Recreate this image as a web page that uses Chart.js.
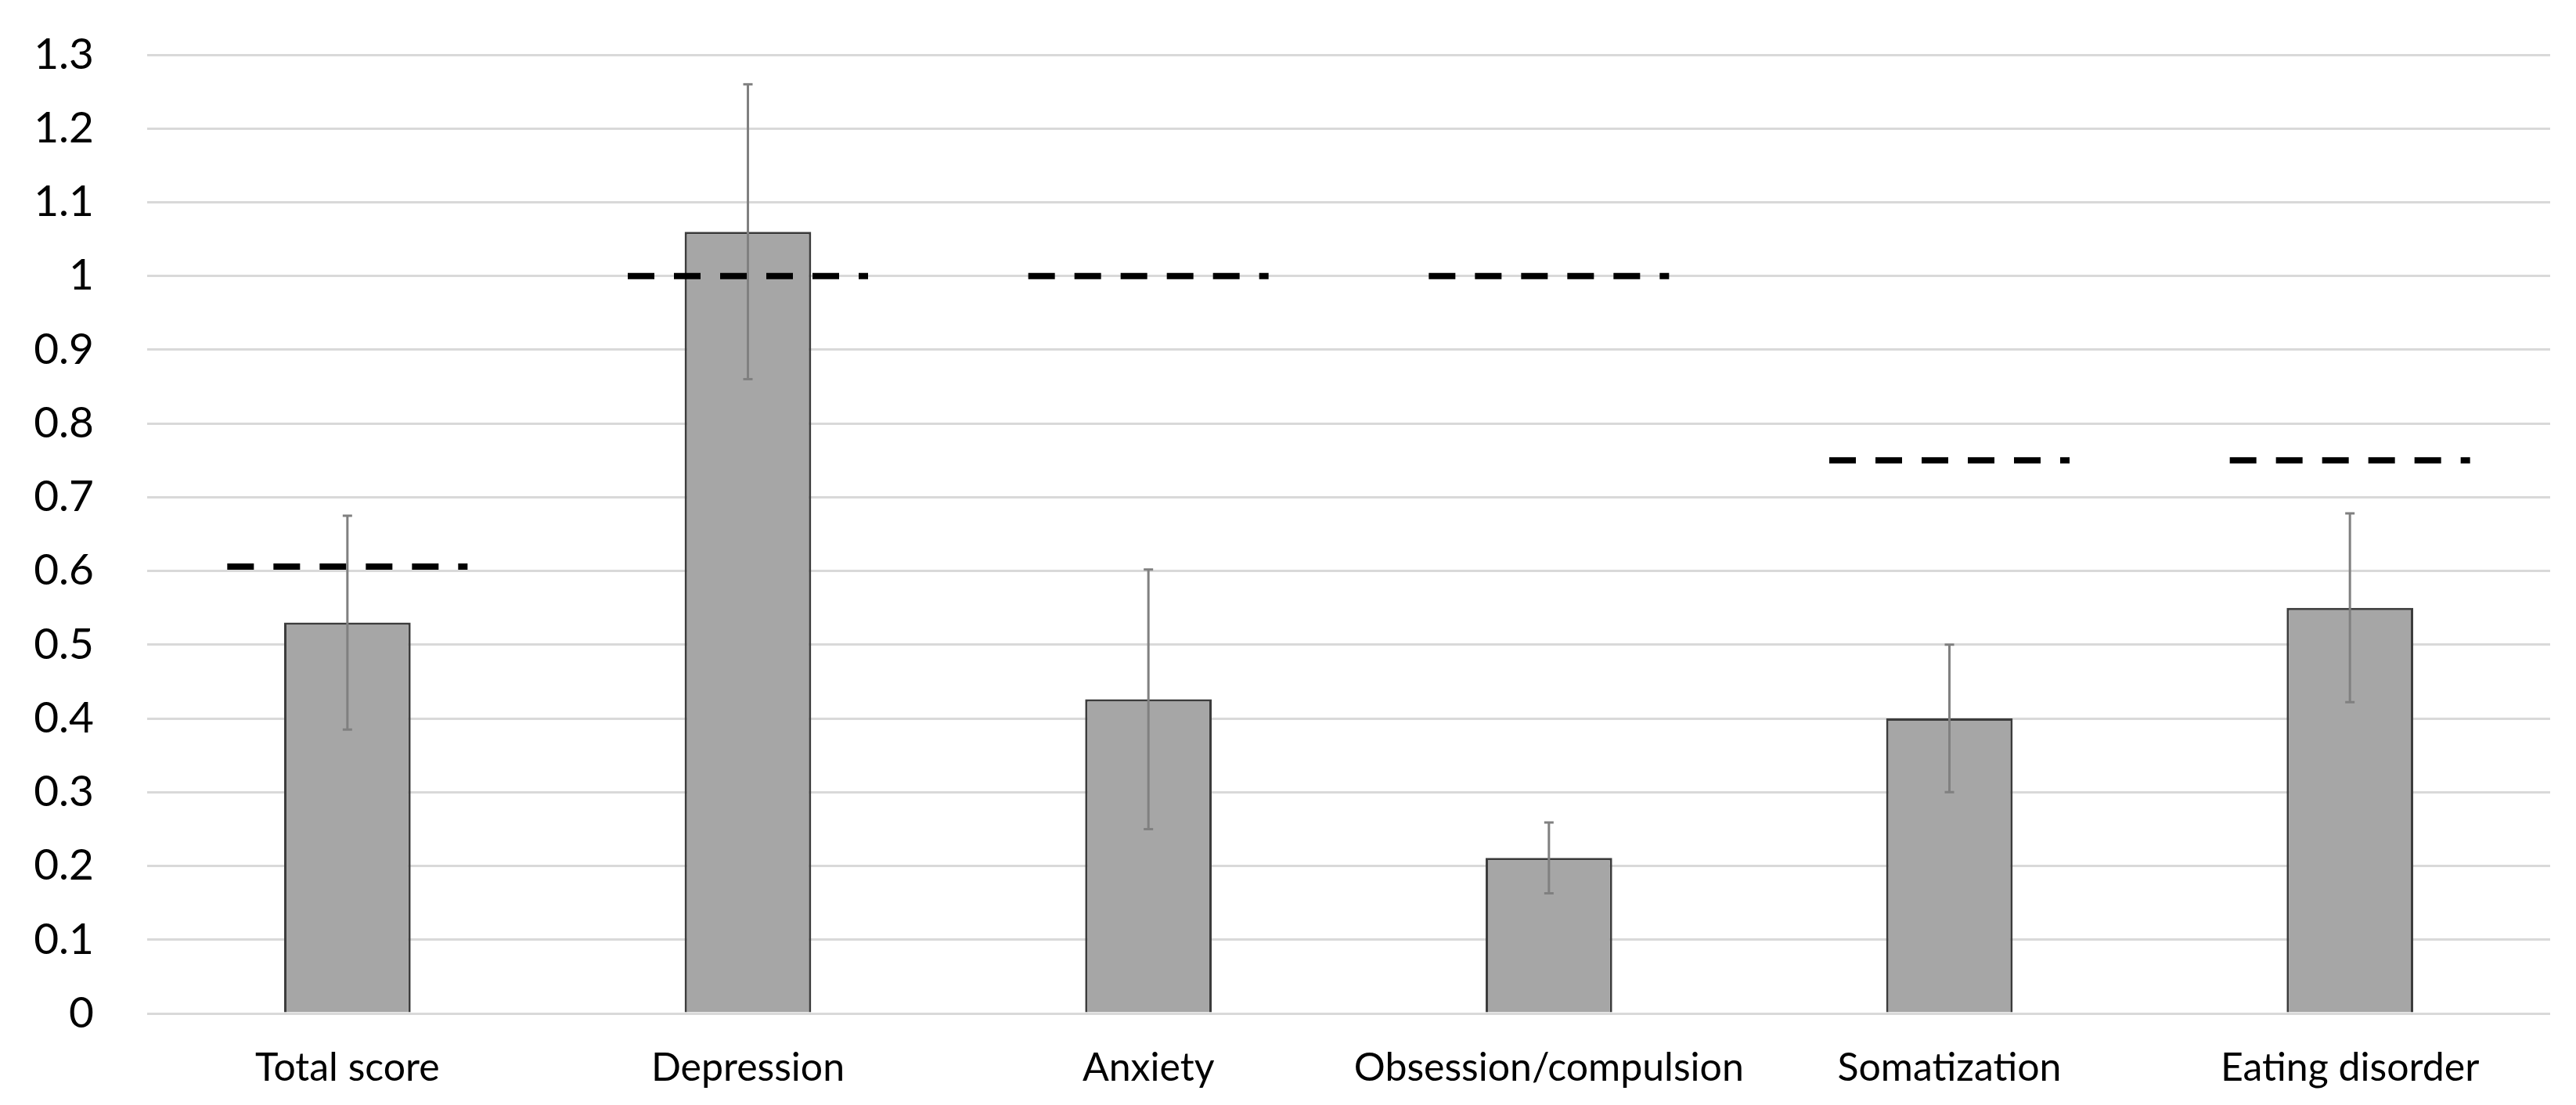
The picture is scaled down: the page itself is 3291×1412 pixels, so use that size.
<!DOCTYPE html>
<html>
<head>
<meta charset="utf-8">
<script src="https://cdn.jsdelivr.net/npm/chart.js@4/dist/chart.umd.min.js"></script>
<style>
  html, body { margin: 0; padding: 0; background: #fff; }
  #wrap { width: 3291px; height: 1412px; }
</style>
</head>
<body>
<div id="wrap"><canvas id="chart"></canvas></div>
<script>
// values
const categories = ['Total score', 'Depression', 'Anxiety', 'Obsession/compulsion', 'Somatization', 'Eating disorder'];
const means = [0.53, 1.06, 0.426, 0.211, 0.40, 0.55];
const errors = [0.145, 0.20, 0.176, 0.048, 0.10, 0.128];
const cutoffs = [0.606, 1.0, 1.0, 1.0, 0.75, 0.75];
const yTicks = [0, 0.1, 0.2, 0.3, 0.4, 0.5, 0.6, 0.7, 0.8, 0.9, 1, 1.1, 1.2, 1.3];

// dashed cut-off line over each category (on a hidden linear x axis)
const halfSpan = 0.3;
const cutoffPoints = [];
cutoffs.forEach((v, i) => {
    cutoffPoints.push({ x: i - halfSpan, y: v }, { x: i + halfSpan, y: v }, { x: i + halfSpan, y: null });
});

// error bars drawn from the bar elements and the y scale
const errorBars = {
    id: 'errorBars',
    afterDatasetsDraw(chart) {
        const meta = chart.getDatasetMeta(0);
        const y = chart.scales.y;
        const ctx = chart.ctx;
        ctx.save();
        ctx.strokeStyle = '#808080';
        ctx.lineWidth = 3;
        meta.data.forEach((bar, i) => {
            const top = y.getPixelForValue(means[i] + errors[i]);
            const bot = y.getPixelForValue(means[i] - errors[i]);
            ctx.beginPath();
            ctx.moveTo(bar.x, top); ctx.lineTo(bar.x, bot);
            ctx.moveTo(bar.x - 6, top); ctx.lineTo(bar.x + 6, top);
            ctx.moveTo(bar.x - 6, bot); ctx.lineTo(bar.x + 6, bot);
            ctx.stroke();
        });
        ctx.restore();
    }
};

new Chart(document.getElementById('chart'), {
    data: {
        labels: categories,
        datasets: [
            {
                type: 'bar',
                data: means,
                backgroundColor: '#a6a6a6',
                borderColor: '#3c3c3c',
                borderWidth: 3,
                grouped: false,
                categoryPercentage: 1,
                barPercentage: 0.316,
                order: 2
            },
            {
                type: 'line',
                xAxisID: 'x2',
                data: cutoffPoints,
                borderColor: '#000',
                borderWidth: 8,
                borderDash: [34, 25],
                borderCapStyle: 'butt',
                pointRadius: 0,
                spanGaps: false,
                fill: false,
                order: 1
            }
        ]
    },
    options: {
        responsive: true,
        maintainAspectRatio: false,
        animation: false,
        layout: { padding: { top: 70, right: 33, left: 0, bottom: 0 } },
        plugins: { legend: { display: false }, tooltip: { enabled: false } },
        scales: {
            x: {
                type: 'category',
                grid: { display: false, drawTicks: false },
                border: { display: false },
                ticks: { color: '#000', padding: 40, maxRotation: 0, font: { family: 'Lato', size: 50 } },
                afterFit(s) { s.height = 117; }
            },
            x2: {
                type: 'linear',
                display: false,
                min: -0.5,
                max: categories.length - 0.5
            },
            y: {
                min: 0,
                max: 1.3,
                afterBuildTicks(s) { s.ticks = yTicks.map(v => ({ value: v })); },
                grid: { color: '#d9d9d9', lineWidth: 3, drawTicks: false },
                border: { display: false },
                ticks: {
                    color: '#000',
                    padding: 68,
                    font: { family: 'Lato', size: 55 },
                    callback: v => String(+v.toFixed(1))
                },
                afterFit(s) {
                    s.width = 188;
                    s.paddingTop = 0;
                    s.paddingBottom = 0;
                }
            }
        }
    },
    plugins: [errorBars]
});
</script>
</body>
</html>
